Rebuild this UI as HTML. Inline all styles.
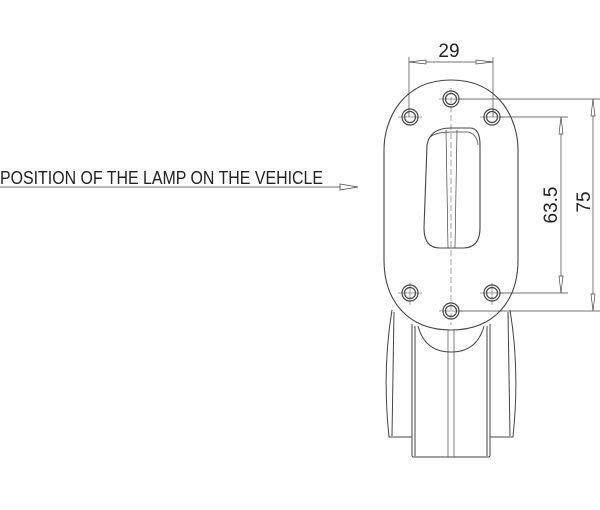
<!DOCTYPE html>
<html><head><meta charset="utf-8"><style>html,body{margin:0;padding:0;background:#fff}svg{display:block}</style></head>
<body>
<svg width="600" height="510" viewBox="0 0 600 510" xmlns="http://www.w3.org/2000/svg" font-family="Liberation Sans, sans-serif">
<g fill="none" stroke="#444" stroke-width="1">
<line x1="0" y1="187" x2="358" y2="187" stroke-width="0.8"/>
<path d="M340 184 L358 187 L340 190 Z" fill="#fff" stroke-width="0.8"/>
<path d="M392 310 Q382 370 389 437 L412 437" />
<path d="M510 310 Q520 370 513 437 L490 437" />
<line x1="394" y1="312" x2="392" y2="436"/>
<line x1="508" y1="312" x2="510" y2="436"/>
<path d="M412 324 L412 455 Q412 457 414 457 L488 457 Q490 457 490 455 L490 324"/>
<line x1="415" y1="326" x2="415" y2="456"/>
<line x1="487" y1="326" x2="487" y2="456"/>
<path d="M418 326 Q425 352 451 352 Q477 352 484 326"/>
<line x1="448" y1="330" x2="448" y2="457" stroke-width="0.7"/>
<line x1="454" y1="330" x2="454" y2="457" stroke-width="0.7"/>
<path d="M451 80 C500 80 518 120 518 150 L518 260 C518 300 495 330 451 330 C407 330 384 300 384 260 L384 150 C384 120 402 80 451 80 Z" fill="#fff" stroke-width="1.1"/>
<path d="M427 145 Q430 128 451 128 L470 128 Q480 128 480 145 L480 228 Q480 248 463 248 L440 248 Q424 248 424 228 Z" stroke-width="1.1"/>
<path d="M428 140 Q432 132 451 132 L468 132 Q477 134 478 145" stroke-width="0.7"/>
<line x1="446" y1="130" x2="448" y2="248" stroke-width="0.7"/>
<line x1="457" y1="130" x2="455" y2="248" stroke-width="0.7"/>
<line x1="451" y1="88" x2="451" y2="325" stroke-width="0.5" stroke-dasharray="6 3"/>
<g stroke-width="1.2">
<circle cx="451" cy="99" r="8"/><circle cx="451" cy="99" r="5.5"/>
<circle cx="410" cy="117" r="8"/><circle cx="410" cy="117" r="5.5"/>
<circle cx="492" cy="117" r="8"/><circle cx="492" cy="117" r="5.5"/>
<circle cx="410" cy="293" r="8"/><circle cx="410" cy="293" r="5.5"/>
<circle cx="492" cy="293" r="8"/><circle cx="492" cy="293" r="5.5"/>
<circle cx="451" cy="311" r="8"/><circle cx="451" cy="311" r="5.5"/>
</g>
<g stroke-width="0.5">
<line x1="398" y1="117" x2="422" y2="117"/><line x1="480" y1="117" x2="504" y2="117"/>
<line x1="398" y1="293" x2="422" y2="293"/><line x1="480" y1="293" x2="504" y2="293"/>
<line x1="439" y1="99" x2="463" y2="99"/><line x1="439" y1="311" x2="463" y2="311"/>
<line x1="410" y1="283" x2="410" y2="305"/><line x1="492" y1="283" x2="492" y2="305"/>
</g>
<g stroke-width="0.7">
<line x1="409" y1="57" x2="409" y2="117"/>
<line x1="493" y1="57" x2="493" y2="117"/>
<line x1="409" y1="62" x2="493" y2="62"/>
<path d="M409 62 L426 60 L426 64 Z M493 62 L476 60 L476 64 Z" fill="#fff"/>
<line x1="459" y1="99" x2="600" y2="99"/>
<line x1="459" y1="311" x2="600" y2="311"/>
<line x1="593" y1="99" x2="593" y2="311"/>
<path d="M593 99 L591 116 L595 116 Z M593 311 L591 294 L595 294 Z" fill="#fff"/>
<line x1="500" y1="117" x2="568" y2="117"/>
<line x1="500" y1="293" x2="568" y2="293"/>
<line x1="561" y1="117" x2="561" y2="293"/>
<path d="M561 117 L559 134 L563 134 Z M561 293 L559 276 L563 276 Z" fill="#fff"/>
</g>
</g>
<g fill="#222" font-size="18">
<text x="0" y="184" textLength="323" lengthAdjust="spacingAndGlyphs">POSITION OF THE LAMP ON THE VEHICLE</text>
<text x="449" y="57" text-anchor="middle" font-size="19">29</text>
<text transform="translate(557,205) rotate(-90)" text-anchor="middle" font-size="19">63.5</text>
<text transform="translate(590,202) rotate(-90)" text-anchor="middle" font-size="19">75</text>
</g>
</svg>
</body></html>
